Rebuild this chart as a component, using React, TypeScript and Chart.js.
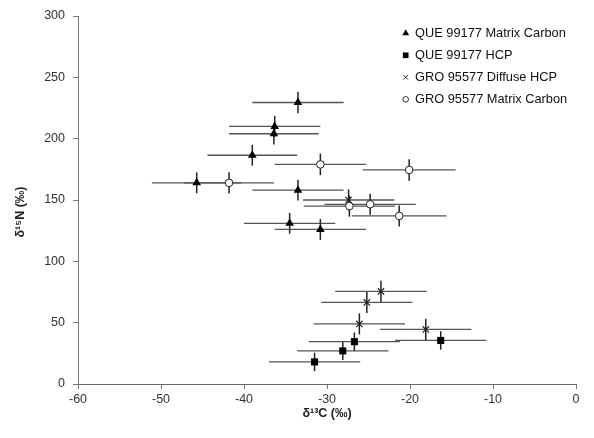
import React, { useEffect, useRef } from "react";
import { Chart, registerables } from "chart.js";
import { drawPoint } from "chart.js/helpers";

Chart.register(...registerables);

// QUE 99177 Matrix Carbon (triangles)
const queMatrixX = [-33.5, -36.3, -36.4, -39.0, -45.7, -33.5, -34.5, -30.8];
const queMatrixY = [229.5, 210, 204, 186.5, 164, 158, 131, 126];
const queMatrixXErr = [5.5, 5.5, 5.4, 5.4, 5.4, 5.5, 5.5, 5.5];
const queMatrixYErr = [8.7, 8.6, 8.7, 8.5, 8.5, 8.5, 8.5, 8.5];

// QUE 99177 HCP (squares)
const queHcpX = [-31.5, -28.1, -26.7, -16.3];
const queHcpY = [18, 27, 34.5, 35.5];
const queHcpXErr = [5.5, 5.5, 5.5, 5.5];
const queHcpYErr = [7.5, 7.5, 7.5, 7.5];

// GRO 95577 Diffuse HCP (crosses)
const groDiffX = [-23.5, -25.2, -26.1, -18.1, -27.4];
const groDiffY = [75.5, 66.5, 49, 44.5, 150];
const groDiffXErr = [5.5, 5.5, 5.5, 5.5, 5.5];
const groDiffYErr = [8.6, 8.6, 8.6, 8.6, 8.6];

// GRO 95577 Matrix Carbon (open circles)
const groMatrixX = [-30.8, -41.8, -20.1, -27.3, -24.8, -21.3];
const groMatrixY = [179, 164, 174.5, 145, 146.5, 137];
const groMatrixXErr = [5.5, 5.4, 5.6, 5.5, 5.5, 5.7];
const groMatrixYErr = [8.8, 8.6, 8.8, 8.6, 8.6, 8.6];

const seriesLabels = [
  "QUE 99177 Matrix Carbon",
  "QUE 99177 HCP",
  "GRO 95577 Diffuse HCP",
  "GRO 95577 Matrix Carbon",
];

const xTicks = [-60, -50, -40, -30, -20, -10, 0];
const yTicks = [0, 50, 100, 150, 200, 250, 300];

const xTitle = "δ¹³C (‰)";
const yTitle = "δ¹⁵N (‰)";

const FONT = "'Liberation Sans', Arial, Helvetica, sans-serif";

const pts = (xs: number[], ys: number[]) => xs.map((x, i) => ({ x, y: ys[i] }));

const errorBarPlugin = {
  id: "errorBars",
  beforeDatasetsDraw(chart: any) {
    const { ctx, scales } = chart;
    const xs = scales.x;
    const ys = scales.y;
    ctx.save();
    chart.data.datasets.forEach((ds: any) => {
      ds.data.forEach((p: any, j: number) => {
        const cx = xs.getPixelForValue(p.x);
        const cy = ys.getPixelForValue(p.y);
        const x0 = xs.getPixelForValue(p.x - ds.xErr[j]);
        const x1 = xs.getPixelForValue(p.x + ds.xErr[j]);
        const y0 = ys.getPixelForValue(p.y - ds.yErr[j]);
        const y1 = ys.getPixelForValue(p.y + ds.yErr[j]);
        ctx.strokeStyle = "#555";
        ctx.lineWidth = 1.3;
        ctx.beginPath();
        ctx.moveTo(x0, cy);
        ctx.lineTo(x1, cy);
        ctx.stroke();
        ctx.strokeStyle = "#222";
        ctx.lineWidth = 1.5;
        ctx.beginPath();
        ctx.moveTo(cx, y0);
        ctx.lineTo(cx, y1);
        ctx.stroke();
      });
    });
    ctx.restore();
  },
};

const legendPlugin = {
  id: "customLegend",
  afterDraw(chart: any) {
    const { ctx } = chart;
    ctx.save();
    ctx.font = `bold 12.5px ${FONT}`;
    ctx.fillStyle = "#222";
    ctx.textAlign = "center";
    ctx.textBaseline = "middle";
    ctx.translate(21, 212);
    ctx.rotate(-Math.PI / 2);
    ctx.fillText(yTitle, 0, 0);
    ctx.restore();

    ctx.save();
    ctx.font = `12.8px ${FONT}`;
    ctx.textBaseline = "middle";
    ctx.textAlign = "left";
    const radii: Record<string, number> = { triangle: 4, rect: 4, crossRot: 3.3, circle: 2.8 };
    chart.data.datasets.forEach((ds: any, i: number) => {
      const y = 33.3 + i * 22;
      const mx = 405.7;
      ctx.fillStyle = ds.pointStyle === "circle" ? "#fff" : "#000";
      ctx.strokeStyle = "#000";
      ctx.lineWidth = 0.8;
      drawPoint(
        ctx,
        {
          pointStyle: ds.pointStyle,
          rotation: 0,
          radius: radii[ds.pointStyle],
          borderWidth: ds.pointStyle === "circle" || ds.pointStyle === "crossRot" ? 0.8 : 0,
        } as any,
        mx,
        y
      );
      ctx.fillStyle = "#111";
      ctx.fillText(ds.label, 415, y + 0.5);
    });
    ctx.restore();
  },
};

export default function App() {
  const ref = useRef<HTMLCanvasElement>(null);
  useEffect(() => {
    document.body.style.margin = "0";
    const c = ref.current!;
    const chart = new Chart(c, {
      type: "scatter",
      data: {
        datasets: [
          {
            label: seriesLabels[0],
            data: pts(queMatrixX, queMatrixY),
            pointStyle: "triangle",
            pointRadius: 5,
            backgroundColor: "#000",
            borderColor: "#000",
            borderWidth: 0,
            xErr: queMatrixXErr,
            yErr: queMatrixYErr,
          } as any,
          {
            label: seriesLabels[1],
            data: pts(queHcpX, queHcpY),
            pointStyle: "rect",
            pointRadius: 5,
            backgroundColor: "#000",
            borderColor: "#000",
            borderWidth: 0,
            xErr: queHcpXErr,
            yErr: queHcpYErr,
          } as any,
          {
            label: seriesLabels[2],
            data: pts(groDiffX, groDiffY),
            pointStyle: "crossRot",
            pointRadius: 4.5,
            backgroundColor: "#000",
            borderColor: "#222",
            borderWidth: 1.2,
            xErr: groDiffXErr,
            yErr: groDiffYErr,
          } as any,
          {
            label: seriesLabels[3],
            data: pts(groMatrixX, groMatrixY),
            pointStyle: "circle",
            pointRadius: 3.8,
            backgroundColor: "#fff",
            borderColor: "#222",
            borderWidth: 1,
            xErr: groMatrixXErr,
            yErr: groMatrixYErr,
          } as any,
        ],
      },
      options: {
        responsive: false,
        animation: false,
        events: [],
        layout: { padding: { top: 16, right: 18, left: 0, bottom: 0 } },
        plugins: {
          legend: { display: false },
          tooltip: { enabled: false },
        },
        scales: {
          x: {
            type: "linear",
            min: -60,
            max: 0,
            afterBuildTicks: (s: any) => {
              s.ticks = xTicks.map((v) => ({ value: v }));
            },
            afterFit: (s: any) => {
              s.height = 54;
            },
            grid: {
              drawOnChartArea: false,
              drawTicks: true,
              tickLength: 5,
              color: "#777",
            },
            border: { color: "#666", width: 1 },
            ticks: {
              color: "#333",
              padding: 3,
              font: { family: FONT, size: 12.5 },
            },
            title: {
              display: true,
              text: xTitle,
              color: "#222",
              font: { family: FONT, size: 12.5, weight: "bold" },
              padding: { top: 2, bottom: 17 },
            },
          },
          y: {
            type: "linear",
            min: 0,
            max: 300,
            afterBuildTicks: (s: any) => {
              s.ticks = yTicks.map((v) => ({ value: v }));
            },
            afterFit: (s: any) => {
              s.width = 78;
            },
            grid: {
              drawOnChartArea: false,
              drawTicks: true,
              tickLength: 5,
              color: "#777",
            },
            border: { color: "#777", width: 1 },
            ticks: {
              color: "#333",
              padding: 8,
              font: { family: FONT, size: 12.5 },
            },
            title: { display: false },
          },
        },
      } as any,
      plugins: [errorBarPlugin, legendPlugin],
    });
    return () => chart.destroy();
  }, []);
  return (
    <div style={{ position: "fixed", left: 0, top: 0, width: 594, height: 438, background: "#fff" }}>
      <canvas ref={ref} width={594} height={438} style={{ display: "block" }} />
    </div>
  );
}
